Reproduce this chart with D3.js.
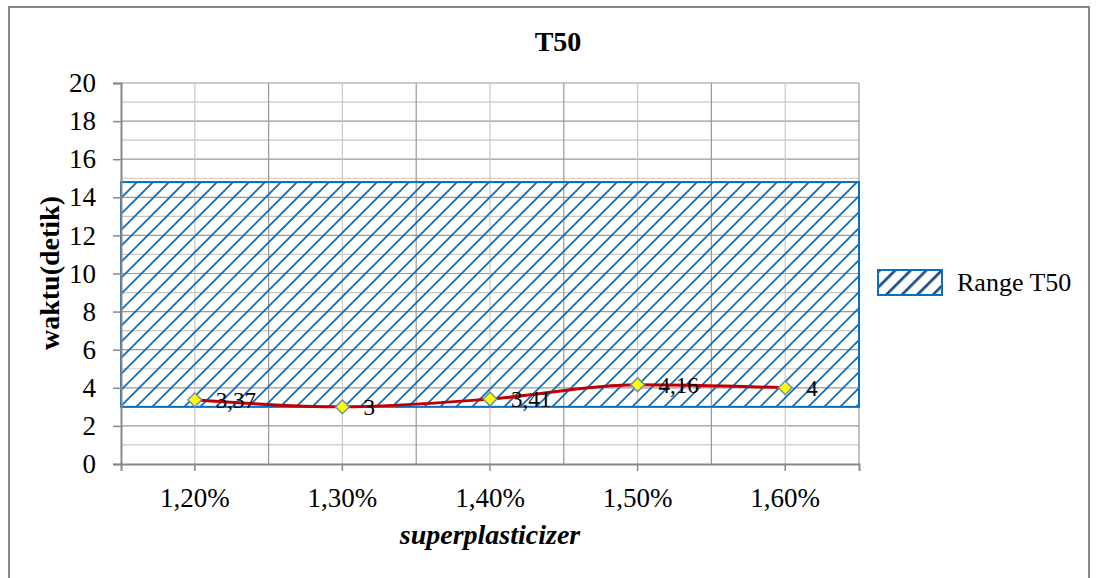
<!DOCTYPE html>
<html>
<head>
<meta charset="utf-8">
<script src="https://cdn.jsdelivr.net/npm/d3@7"></script>
<style>
  body { margin: 0; background: #fff; }
  text { font-family: "Liberation Serif", "Times New Roman", serif; }
</style>
</head>
<body>
<svg id="chart"></svg>
<script>
(function() {

const categories = ["1,20%", "1,30%", "1,40%", "1,50%", "1,60%"];
const t50Values = [3.37, 3, 3.41, 4.16, 4];
const t50Labels = ["3,37", "3", "3,41", "4,16", "4"];
const rangeLow = 3;
const rangeHigh = 14.8;
const yTicks = [0, 2, 4, 6, 8, 10, 12, 14, 16, 18, 20];

const W = 1098, H = 578;
const margin = { top: 83, right: 239, bottom: 114, left: 121 };
const width = W - margin.left - margin.right;
const height = H - margin.top - margin.bottom;

const hatchColor = "#0a6fc0";
const hatchGap = 16;      // horizontal distance between hatch lines
const hatchAngle = 45;    // degrees from horizontal

const svg = d3.select("#chart")
    .attr("width", W)
    .attr("height", H);

// outer frame
svg.append("rect")
    .attr("x", 9).attr("y", 7)
    .attr("width", 1080).attr("height", 580)
    .attr("fill", "none")
    .attr("stroke", "#888")
    .attr("stroke-width", 2);

const defs = svg.append("defs");

// legend swatch pattern
const legPat = defs.append("pattern")
    .attr("id", "hatchLegend")
    .attr("patternUnits", "userSpaceOnUse")
    .attr("width", 11).attr("height", 11)
    .attr("patternTransform", "rotate(45)");
legPat.append("line")
    .attr("x1", 0).attr("y1", 0).attr("x2", 0).attr("y2", 11)
    .attr("stroke", "#1f4e8c").attr("stroke-width", 5.5);

const g = svg.append("g")
    .attr("transform", `translate(${margin.left},${margin.top})`);

const x = d3.scaleBand()
    .domain(categories)
    .range([0, width]);

const y = d3.scaleLinear()
    .domain([0, 20])
    .range([height, 0]);

const xc = d => x(d) + x.bandwidth() / 2;

// horizontal gridlines (every 1, major every 2)
g.append("g").selectAll("line")
    .data(d3.range(1, 21))
    .join("line")
    .attr("x1", 0).attr("x2", width)
    .attr("y1", d => y(d)).attr("y2", d => y(d))
    .attr("stroke", d => d % 2 === 0 ? "#999" : "#c8c8c8")
    .attr("stroke-width", 1.2);

// vertical gridlines: boundaries (dark) and centers (light)
g.append("g").selectAll("line")
    .data(categories.slice(1))
    .join("line")
    .attr("x1", d => x(d)).attr("x2", d => x(d))
    .attr("y1", 0).attr("y2", height)
    .attr("stroke", "#999").attr("stroke-width", 1.2);
g.append("line")
    .attr("x1", width).attr("x2", width)
    .attr("y1", 0).attr("y2", height)
    .attr("stroke", "#999").attr("stroke-width", 1.2);
g.append("g").selectAll("line")
    .data(categories)
    .join("line")
    .attr("x1", d => xc(d)).attr("x2", d => xc(d))
    .attr("y1", 0).attr("y2", height)
    .attr("stroke", "#c8c8c8").attr("stroke-width", 1.2);

// range area: hatched band between rangeLow and rangeHigh
const bandTop = y(rangeHigh), bandBot = y(rangeLow);
const bandH = bandBot - bandTop;
const run = bandH / Math.tan(hatchAngle * Math.PI / 180);

defs.append("clipPath").attr("id", "bandClip")
  .append("rect")
    .attr("x", 0).attr("y", bandTop)
    .attr("width", width).attr("height", bandH);

g.append("g")
    .attr("clip-path", "url(#bandClip)")
    .selectAll("line")
    .data(d3.range(-run, width + hatchGap, hatchGap))
    .join("line")
    .attr("x1", d => d).attr("y1", bandBot)
    .attr("x2", d => d + run).attr("y2", bandTop)
    .attr("stroke", hatchColor)
    .attr("stroke-width", 1.8);

g.append("rect")
    .attr("x", 0)
    .attr("y", bandTop)
    .attr("width", width)
    .attr("height", bandH)
    .attr("fill", "none")
    .attr("stroke", hatchColor)
    .attr("stroke-width", 2);

// axes
const yAxis = g.append("g")
    .call(d3.axisLeft(y).tickValues(yTicks).tickSize(8).tickPadding(17));
yAxis.select(".domain").attr("stroke", "#888").attr("stroke-width", 2);
yAxis.selectAll(".tick line").attr("stroke", "#888").attr("stroke-width", 1.5);
yAxis.selectAll(".tick text")
    .attr("font-size", 27)
    .attr("fill", "#000")
    .attr("font-family", "Liberation Serif, serif");

const xAxis = g.append("g")
    .attr("transform", `translate(0,${height})`)
    .call(d3.axisBottom(x).tickSize(7).tickSizeOuter(7));
xAxis.select(".domain").attr("stroke", "#888").attr("stroke-width", 2);
xAxis.selectAll(".tick line").attr("stroke", "#888").attr("stroke-width", 1.5);
xAxis.selectAll(".tick text")
    .attr("y", 43)
    .attr("dy", 0)
    .attr("font-size", 27)
    .attr("fill", "#000")
    .attr("font-family", "Liberation Serif, serif");

// series line
const data = categories.map((c, i) => ({ c, v: t50Values[i], label: t50Labels[i] }));

const line = d3.line()
    .x(d => xc(d.c))
    .y(d => y(d.v))
    .curve(d3.curveMonotoneX);

g.append("path")
    .datum(data)
    .attr("fill", "none")
    .attr("stroke", "#c00000")
    .attr("stroke-width", 3)
    .attr("d", line);

g.append("g").selectAll("path")
    .data(data)
    .join("path")
    .attr("transform", d => `translate(${xc(d.c)},${y(d.v)})`)
    .attr("d", d3.symbol(d3.symbolDiamond2, 120))
    .attr("fill", "#ffff00")
    .attr("stroke", "#6f8fb4")
    .attr("stroke-width", 1.5);

g.append("g").selectAll("text")
    .data(data)
    .join("text")
    .attr("x", d => xc(d.c) + 21)
    .attr("y", d => y(d.v) + 8)
    .attr("font-size", 23)
    .attr("fill", "#000")
    .text(d => d.label);

// title and axis labels
svg.append("text")
    .attr("x", 558).attr("y", 51)
    .attr("text-anchor", "middle")
    .attr("font-size", 28)
    .attr("font-weight", "bold")
    .text("T50");

svg.append("text")
    .attr("transform", "translate(59,273) rotate(-90)")
    .attr("text-anchor", "middle")
    .attr("font-size", 28)
    .attr("font-weight", "bold")
    .text("waktu(detik)");

svg.append("text")
    .attr("x", 490).attr("y", 544)
    .attr("text-anchor", "middle")
    .attr("font-size", 28)
    .attr("font-weight", "bold")
    .attr("font-style", "italic")
    .text("superplasticizer");

// legend
const leg = svg.append("g").attr("transform", "translate(878,270)");
leg.append("rect")
    .attr("width", 64).attr("height", 25)
    .attr("fill", "url(#hatchLegend)")
    .attr("stroke", hatchColor)
    .attr("stroke-width", 2);
leg.append("text")
    .attr("x", 79).attr("y", 21)
    .attr("font-size", 26)
    .text("Range T50");

})();
</script>
</body>
</html>
